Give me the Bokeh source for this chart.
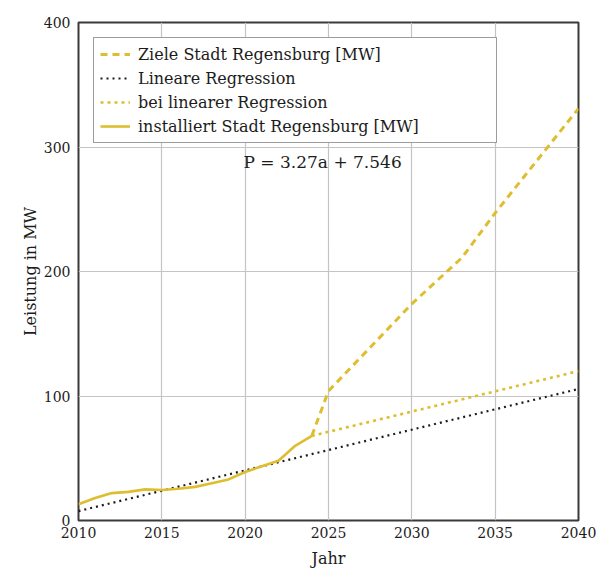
from bokeh.plotting import figure
from bokeh.models import Legend, LegendItem, Label, FixedTicker, Range1d
from bokeh.embed import file_html
from bokeh.resources import INLINE

# --- data ---
installed_years = [2010, 2011, 2012, 2013, 2014, 2015, 2016, 2017, 2018, 2019, 2020, 2021, 2022, 2023, 2024]
installed_mw = [13, 18, 22, 23, 25, 24.5, 25.5, 27, 30, 33, 39, 43.5, 48, 60, 68]

target_years = [2024, 2025, 2030, 2033, 2035, 2040]
target_mw = [68, 104, 174, 211, 247, 331]

regression_years = [2010, 2040]
regression_mw = [7.546, 105.646]

extrapolated_years = [2024, 2040]
extrapolated_mw = [68, 120]

x_ticks = [2010, 2015, 2020, 2025, 2030, 2035, 2040]
y_ticks = [0, 100, 200, 300, 400]

legend_labels = [
    "Ziele Stadt Regensburg [MW]",
    "Lineare Regression",
    "bei linearer Regression",
    "installiert Stadt Regensburg [MW]",
]
equation_text = "P = 3.27a + 7.546"

FONT = "DejaVu Serif"
GOLD = "#DEBE30"
DARK = "#1c1c1c"

p = figure(width=597, height=570, output_backend="svg", toolbar_location=None,
           x_range=Range1d(2010, 2040), y_range=Range1d(0, 400),
           min_border_left=78, min_border_right=19, min_border_top=22, min_border_bottom=47)

p.background_fill_color = "white"
p.border_fill_color = "white"
p.outline_line_color = "#3a3a3a"
p.outline_line_width = 2

p.xaxis.ticker = FixedTicker(ticks=x_ticks)
p.yaxis.ticker = FixedTicker(ticks=y_ticks)
for ax in (p.xaxis, p.yaxis):
    ax.axis_line_color = None
    ax.major_tick_line_color = None
    ax.minor_tick_line_color = None
    ax.major_tick_in = 0
    ax.major_tick_out = 0
    ax.major_label_text_font = FONT
    ax.major_label_text_font_size = "14px"
    ax.major_label_text_color = DARK
    ax.axis_label_text_font = FONT
    ax.axis_label_text_font_size = "16px"
    ax.axis_label_text_font_style = "normal"
    ax.axis_label_text_color = DARK
p.xaxis.axis_label = "Jahr"
p.yaxis.axis_label = "Leistung in MW"
p.xaxis.major_label_standoff = 6
p.yaxis.major_label_standoff = 8
p.xaxis.axis_label_standoff = 8
p.yaxis.axis_label_standoff = 1

p.xgrid.grid_line_color = "#c4c4c4"
p.ygrid.grid_line_color = "#c4c4c4"
p.xgrid.grid_line_width = 1.2
p.ygrid.grid_line_width = 1.2

r_reg = p.line(regression_years, regression_mw, line_color=DARK, line_width=2.2, line_dash="2 4")
r_ext = p.line(extrapolated_years, extrapolated_mw, line_color=GOLD, line_width=2.6, line_dash="3 4")
r_target = p.line(target_years, target_mw, line_color=GOLD, line_width=3, line_dash="7 5")
r_inst = p.line(installed_years, installed_mw, line_color=GOLD, line_width=2.6)

legend = Legend(items=[
    LegendItem(label=legend_labels[0], renderers=[r_target]),
    LegendItem(label=legend_labels[1], renderers=[r_reg]),
    LegendItem(label=legend_labels[2], renderers=[r_ext]),
    LegendItem(label=legend_labels[3], renderers=[r_inst]),
], location="top_left")
legend.margin = 15
legend.padding = 6
legend.spacing = 4
legend.label_height = 20
legend.glyph_height = 20
legend.glyph_width = 30
legend.label_standoff = 8
legend.label_width = 352
legend.label_text_font = FONT
legend.label_text_font_size = "16px"
legend.label_text_color = DARK
legend.border_line_color = "#3a3a3a"
legend.border_line_width = 1.5
legend.background_fill_color = "white"
legend.background_fill_alpha = 1
p.add_layout(legend, "center")

p.add_layout(Label(x=2019.9, y=288, text=equation_text, text_font=FONT, text_font_size="17px",
                   text_font_style="normal", text_color=DARK, text_baseline="middle", text_align="left"))

open("out.html", "w").write(file_html(p, INLINE))
